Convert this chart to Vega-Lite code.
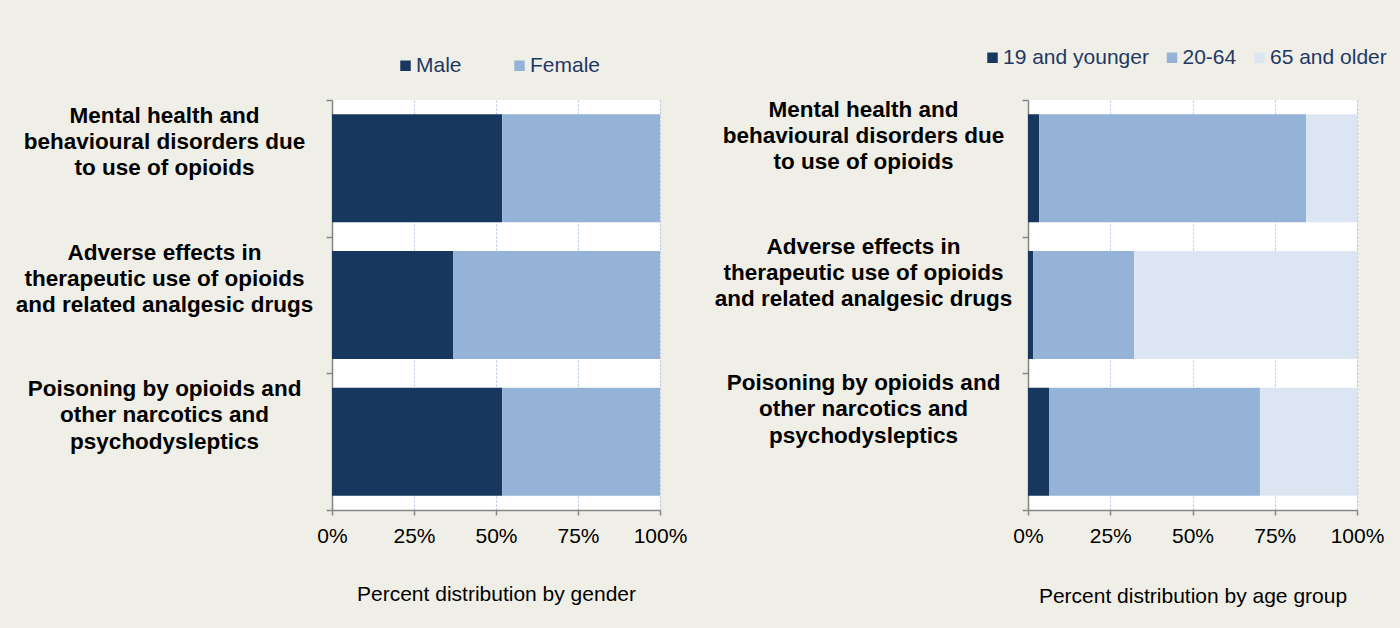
{
  "$schema": "https://vega.github.io/schema/vega-lite/v6.json",
  "background": "#F0EFE7",
  "padding": {"left": 15, "top": 47, "right": 16, "bottom": 22},
  "datasets": {
    "gender": [
      {"cause": "Mental health and\nbehavioural disorders due\nto use of opioids", "group": "Male", "k": 1, "v": 0.519},
      {"cause": "Mental health and\nbehavioural disorders due\nto use of opioids", "group": "Female", "k": 2, "v": 0.481},
      {"cause": "Adverse effects in\ntherapeutic use of opioids\nand related analgesic drugs", "group": "Male", "k": 1, "v": 0.369},
      {"cause": "Adverse effects in\ntherapeutic use of opioids\nand related analgesic drugs", "group": "Female", "k": 2, "v": 0.631},
      {"cause": "Poisoning by opioids and\nother narcotics and\npsychodysleptics", "group": "Male", "k": 1, "v": 0.519},
      {"cause": "Poisoning by opioids and\nother narcotics and\npsychodysleptics", "group": "Female", "k": 2, "v": 0.481}
    ],
    "age": [
      {"cause": "Mental health and\nbehavioural disorders due\nto use of opioids", "group": "19 and younger", "k": 1, "v": 0.034},
      {"cause": "Mental health and\nbehavioural disorders due\nto use of opioids", "group": "20-64", "k": 2, "v": 0.811},
      {"cause": "Mental health and\nbehavioural disorders due\nto use of opioids", "group": "65 and older", "k": 3, "v": 0.155},
      {"cause": "Adverse effects in\ntherapeutic use of opioids\nand related analgesic drugs", "group": "19 and younger", "k": 1, "v": 0.016},
      {"cause": "Adverse effects in\ntherapeutic use of opioids\nand related analgesic drugs", "group": "20-64", "k": 2, "v": 0.307},
      {"cause": "Adverse effects in\ntherapeutic use of opioids\nand related analgesic drugs", "group": "65 and older", "k": 3, "v": 0.677},
      {"cause": "Poisoning by opioids and\nother narcotics and\npsychodysleptics", "group": "19 and younger", "k": 1, "v": 0.065},
      {"cause": "Poisoning by opioids and\nother narcotics and\npsychodysleptics", "group": "20-64", "k": 2, "v": 0.64},
      {"cause": "Poisoning by opioids and\nother narcotics and\npsychodysleptics", "group": "65 and older", "k": 3, "v": 0.295}
    ]
  },
  "config": {
    "font": "Liberation Sans",
    "view": {"fill": "white", "stroke": null},
    "axis": {
      "domainColor": "#868686", "domainWidth": 1.5,
      "tickColor": "#868686", "tickWidth": 1.5,
      "labelColor": "black", "titleColor": "black",
      "labelFont": "Liberation Sans", "titleFont": "Liberation Sans",
      "titleFontWeight": "normal"
    },
    "legend": {
      "symbolType": "square", "symbolSize": 110, "symbolStrokeWidth": 0, "symbolOpacity": 1,
      "labelFontSize": 21, "labelColor": "#1F3864", "labelFont": "Liberation Sans",
      "labelOffset": 0, "title": null
    }
  },
  "resolve": {"scale": {"color": "independent"}, "legend": {"color": "independent"}},
  "spacing": 27,
  "hconcat": [
    {
      "width": 328, "height": 410,
      "data": {"name": "gender"},
      "mark": {"type": "bar", "height": {"band": 0.79}},
      "encoding": {
        "y": {
          "field": "cause", "type": "nominal", "sort": null,
          "scale": {"paddingInner": 0, "paddingOuter": 0},
          "axis": {
            "title": null, "labelExpr": "split(datum.label, '\\n')",
            "labelFontSize": 22.5, "labelFontWeight": "bold", "labelAlign": "center",
            "labelPadding": 162, "labelLineHeight": 26.3, "labelOffset": -53,
            "labelLimit": 400, "tickBand": "extent", "tickSize": 6, "grid": false
          }
        },
        "x": {
          "field": "v", "type": "quantitative", "stack": "zero",
          "scale": {"domain": [0, 1]},
          "axis": {
            "values": [0, 0.25, 0.5, 0.75, 1], "format": ".0%", "labelFlush": false,
            "title": "Percent distribution by gender",
            "labelFontSize": 21, "titleFontSize": 21, "labelPadding": 10, "titlePadding": 37,
            "tickSize": 5, "grid": true, "gridColor": "#B4C7E7", "gridDash": [2, 2], "gridWidth": 1.2
          }
        },
        "color": {
          "field": "group", "type": "nominal",
          "scale": {"domain": ["Male", "Female"], "range": ["#17375E", "#95B3D7"]},
          "legend": {"orient": "none", "legendX": 63, "legendY": -45, "direction": "horizontal", "columnPadding": 47}
        },
        "order": {"field": "k", "type": "quantitative"}
      }
    },
    {
      "width": 329, "height": 410,
      "data": {"name": "age"},
      "mark": {"type": "bar", "height": {"band": 0.79}},
      "encoding": {
        "y": {
          "field": "cause", "type": "nominal", "sort": null,
          "scale": {"paddingInner": 0, "paddingOuter": 0},
          "axis": {
            "title": null, "labelExpr": "split(datum.label, '\\n')",
            "labelFontSize": 22.5, "labelFontWeight": "bold", "labelAlign": "center",
            "labelPadding": 159, "labelLineHeight": 26.3, "labelOffset": -59,
            "labelLimit": 400, "tickBand": "extent", "tickSize": 6, "grid": false
          }
        },
        "x": {
          "field": "v", "type": "quantitative", "stack": "zero",
          "scale": {"domain": [0, 1]},
          "axis": {
            "values": [0, 0.25, 0.5, 0.75, 1], "format": ".0%", "labelFlush": false,
            "title": "Percent distribution by age group",
            "labelFontSize": 21, "titleFontSize": 21, "labelPadding": 10, "titlePadding": 39,
            "tickSize": 5, "grid": true, "gridColor": "#B4C7E7", "gridDash": [2, 2], "gridWidth": 1.2
          }
        },
        "color": {
          "field": "group", "type": "nominal",
          "scale": {"domain": ["19 and younger", "20-64", "65 and older"], "range": ["#17375E", "#95B3D7", "#DCE6F2"]},
          "legend": {"orient": "none", "legendX": -46, "legendY": -53, "direction": "horizontal", "columnPadding": 12.5}
        },
        "order": {"field": "k", "type": "quantitative"}
      }
    }
  ]
}
